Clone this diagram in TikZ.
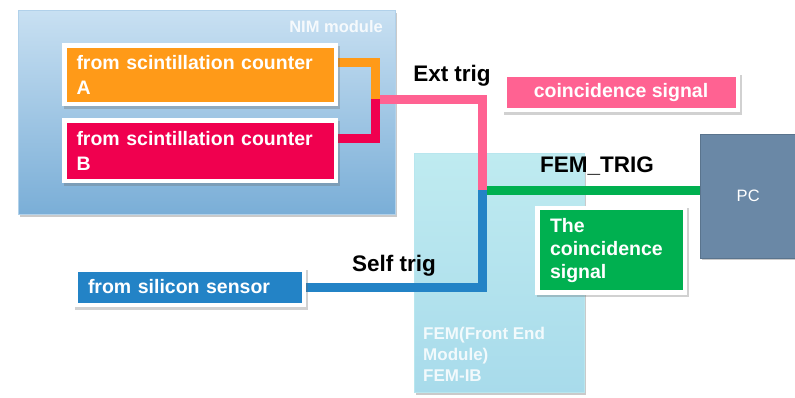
\documentclass[tikz,border=0pt]{standalone}
\usepackage{fontspec}
\setmainfont{Liberation Sans}
\usetikzlibrary{shadows,backgrounds}
\pgfdeclarelayer{wires}
\pgfsetlayers{background,wires,main}
\definecolor{nimtop}{HTML}{C8E0F2}
\definecolor{nimbot}{HTML}{7AAED7}
\definecolor{cOrange}{HTML}{FF9A18}
\definecolor{cRed}{HTML}{F0004F}
\definecolor{cPink}{HTML}{FF6292}
\definecolor{cBlue}{HTML}{2383C6}
\definecolor{cGreen}{HTML}{00B050}
\definecolor{cPC}{HTML}{6A88A6}
\definecolor{femtop}{HTML}{BFEBF0}
\definecolor{fembot}{HTML}{A8DBEB}
\begin{document}
\begin{tikzpicture}[x=1pt,y=-1pt,
  shad/.style={drop shadow={shadow xshift=1.8pt,shadow yshift=-2.2pt,opacity=0.35,fill=black!60}},
  sigshad/.style={drop shadow={shadow xshift=1.5pt,shadow yshift=-2.5pt,opacity=0.3,fill=black!60,draw=black!60,line width=4.5pt}},
  sigbox/.style={draw=white, line width=4.5pt, text=white, inner sep=0pt, sigshad,
    font=\fontsize{19.5}{25}\selectfont\bfseries},
  wire/.style={line width=9pt, line join=miter},
  lbl/.style={font=\fontsize{22.5}{26}\selectfont\bfseries, text=black, inner sep=0pt},
  nimbox/.style={top color=nimtop, bottom color=nimbot, draw=nimtop!70!nimbot, line width=0.8pt, inner sep=0pt, shad},
  fembox/.style={top color=femtop, bottom color=fembot, draw=femtop!70!fembot, line width=0.8pt, inner sep=0pt, shad}]
\useasboundingbox (0,0) rectangle (795,397);

\begin{pgfonlayer}{background}
\node[nimbox, minimum width=377pt, minimum height=204pt, anchor=north west] (nim) at (18,10) {};
\node[fembox, minimum width=170pt, minimum height=239pt, anchor=north west] (fem) at (414,153) {};
\end{pgfonlayer}

\node[anchor=north east, text=white, text opacity=0.85, inner sep=0pt,
  font=\fontsize{16.5}{20}\selectfont\bfseries] (nimlbl) at (383,20) {NIM module};
\node[anchor=north west, align=left, text=white, text opacity=0.85, inner sep=0pt,
  font=\fontsize{17}{21}\selectfont\bfseries] (femlbl) at (423,327) {FEM(Front End\\Module)\\FEM-IB};

\node[draw=cPC!85!black, fill=cPC, minimum width=96pt, minimum height=124pt, anchor=north west,
  shad, text=white, font=\fontsize{16.5}{20}\selectfont] (pc) at (700,134) {PC};

\node[sigbox, fill=cOrange, minimum width=271.5pt, minimum height=58.5pt, text width=247pt, align=left] (a) at (200,74.5) {from scintillation counter\\A};
\node[sigbox, fill=cRed, minimum width=271.5pt, minimum height=60.5pt, text width=247pt, align=left] (b) at (200,150.5) {from scintillation counter\\B};
\node[sigbox, fill=cBlue, minimum width=228.5pt, minimum height=35.5pt, text width=203pt, align=left] (sil) at (189.5,287) {from silicon sensor};
\node[sigbox, fill=cPink, minimum width=233.5pt, minimum height=35.5pt] (coin) at (621,92) {coincidence signal};
\node[sigbox, fill=cGreen, minimum width=147.5pt, minimum height=84.5pt, text width=122pt, align=left,
  font=\fontsize{19.5}{23}\selectfont\bfseries] (green) at (611,250) {The\\coincidence\\signal};

\node[lbl] (ext) at (452,76) {Ext trig};
\node[lbl] (femtrig) at (597,166) {FEM\_TRIG};
\node[lbl] (self) at (394,266) {Self trig};

\coordinate (j1) at (375,99);
\coordinate (j2) at (482,190);
\begin{pgfonlayer}{wires}
\draw[wire, cGreen] (j2) -- (j2 -| pc.west);
\draw[wire, cPink] (j1) -| (j2);
\draw[wire, cBlue] (sil.east) -| (j2);
\draw[wire, cOrange] ([yshift=12.5pt]a.east) -| (j1);
\draw[wire, cRed] ([yshift=12.5pt]b.east) -| (j1);
\end{pgfonlayer}
\end{tikzpicture}
\end{document}
